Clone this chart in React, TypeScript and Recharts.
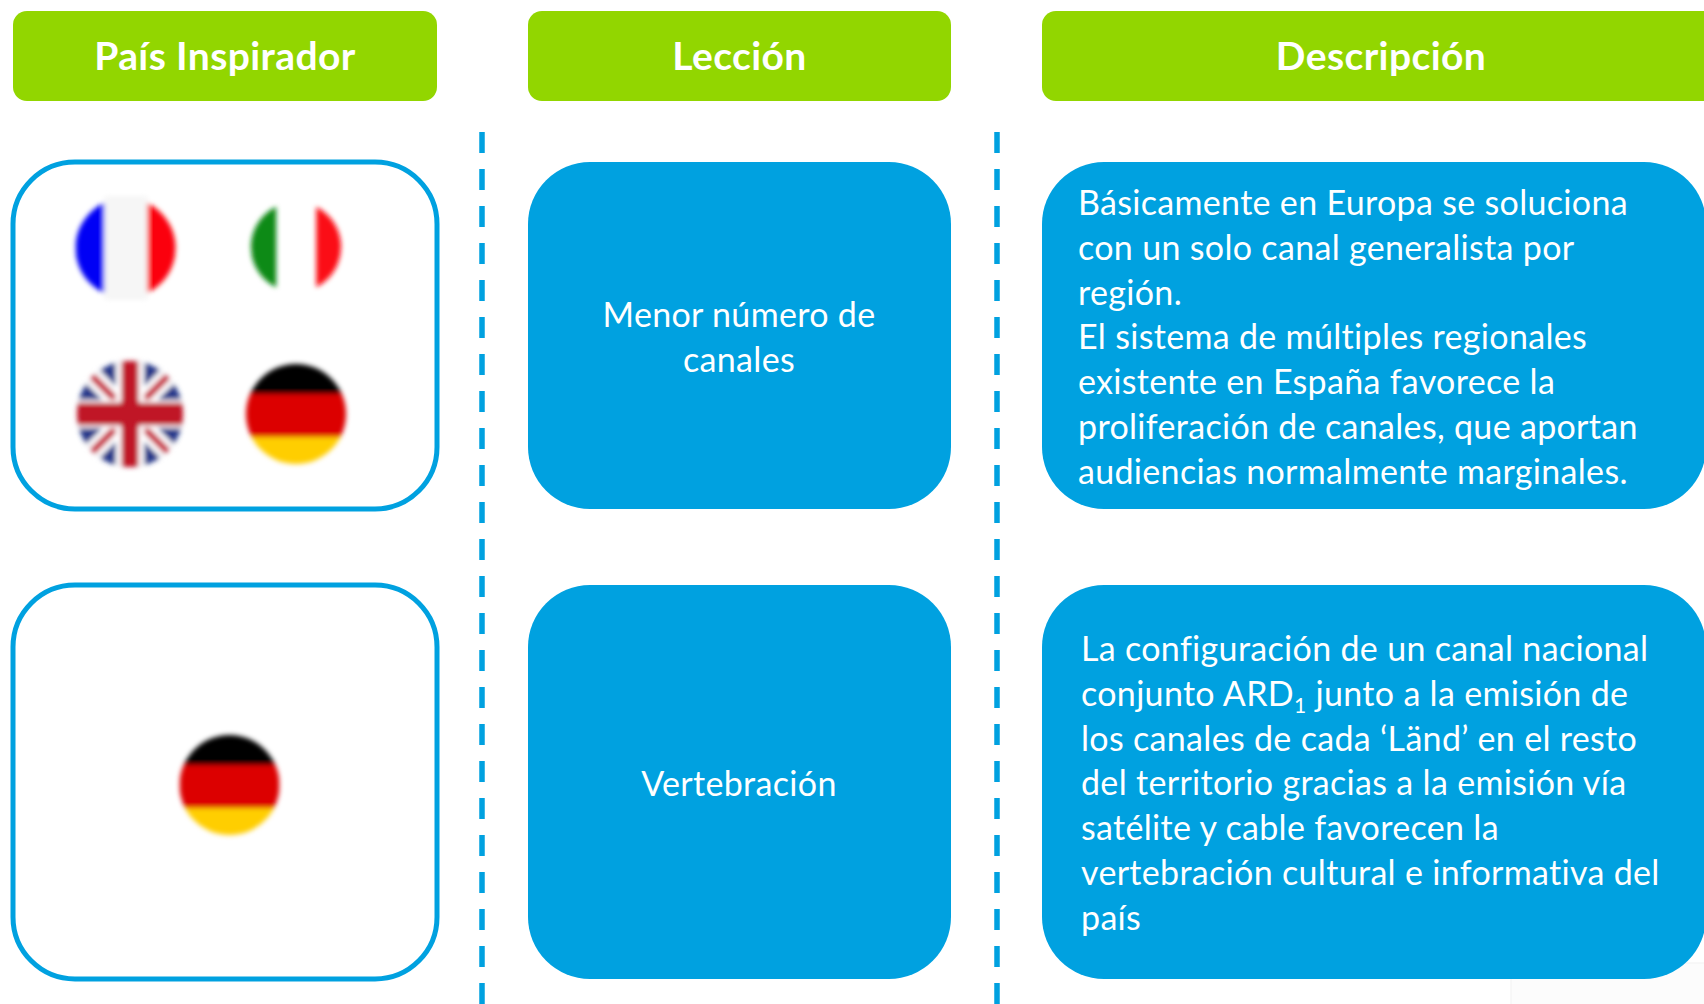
import { ReferenceArea, ReferenceLine, Scatter, ScatterChart, XAxis, YAxis } from "recharts";

const headers = ["País Inspirador", "Lección", "Descripción"];
const lessons = [["Menor número de", "canales"], ["Vertebración"]];
const descriptions = [
  [
    "Básicamente en Europa se soluciona",
    "con un solo canal generalista por",
    "región.",
    "El sistema de múltiples regionales",
    "existente en España favorece la",
    "proliferación de canales, que aportan",
    "audiencias normalmente marginales.",
  ],
  [
    "La configuración de un canal nacional",
    "conjunto ARD|1| junto a la emisión de",
    "los canales de cada ‘Länd’ en el resto",
    "del territorio gracias a la emisión vía",
    "satélite y cable favorecen la",
    "vertebración cultural e informativa del",
    "país",
  ],
];
const flagsRow1 = ["fr", "it", "uk", "de"];
const flagsRow2 = ["de"];

const WIDTH = 1704;
const HEIGHT = 1004;
const BLUE = "#00a1e0";
const GREEN = "#92d600";
const FONT = "Lato, Carlito, Calibri, sans-serif";
const BODY_SIZE = 34;
const LINE_STEP = 44.8;

// axis units are the picture's pixels
const colX = [
  [13, 437],
  [528, 951],
  [1042, 1720],
];
const rowY = [
  [162, 509],
  [585, 979],
];
const flagSpots = [
  [125.5, 248],
  [296, 247],
  [130, 414],
  [296, 414],
  [229.5, 785],
];

const flagData = [...flagsRow1, ...flagsRow2].map((flag, i) => ({
  x: flagSpots[i][0],
  y: flagSpots[i][1],
  flag,
  id: i,
}));

const textData = [
  ...headers.map((text, i) => ({
    x: (colX[i][0] + colX[i][1]) / 2,
    y: 70,
    text,
    anchor: "middle",
    bold: true,
    size: 39,
  })),
  ...lessons[0].map((text, i) => ({ x: 739, y: 327 + i * LINE_STEP, text, anchor: "middle" })),
  ...lessons[1].map((text) => ({ x: 739, y: 796, text, anchor: "middle" })),
  ...descriptions[0].map((text, i) => ({ x: 1078, y: 215 + i * LINE_STEP, text, anchor: "start" })),
  ...descriptions[1].map((text, i) => ({ x: 1081, y: 661 + i * LINE_STEP, text, anchor: "start" })),
];

function Line(props: any) {
  const { cx, cy, payload } = props;
  const parts = payload.text.split("|");
  return (
    <text
      x={cx}
      y={cy}
      textAnchor={payload.anchor}
      fill="#fff"
      fontFamily={FONT}
      fontSize={payload.size ?? BODY_SIZE}
      fontWeight={payload.bold ? 700 : 400}
      letterSpacing={payload.bold ? 0.4 : 0.32}
    >
      {parts.length === 1 ? (
        payload.text
      ) : (
        <>
          <tspan>{parts[0]}</tspan>
          <tspan fontSize={21} dy={7}>
            {parts[1]}
          </tspan>
          <tspan dy={-7}>{parts[2]}</tspan>
        </>
      )}
    </text>
  );
}

function FlagArt({ flag, r }: { flag: string; r: number }) {
  if (flag === "fr") {
    return (
      <>
        <rect x={-r} y={-r} width={r * 0.58} height={2 * r} fill="#0000f5" />
        <rect x={r * 0.42} y={-r} width={r} height={2 * r} fill="#fb0007" />
      </>
    );
  }
  if (flag === "it") {
    return (
      <>
        <rect x={-r} y={-r} width={r * 0.56} height={2 * r} fill="#0b8a12" />
        <rect x={r * 0.45} y={-r} width={r} height={2 * r} fill="#fb0a12" />
      </>
    );
  }
  if (flag === "de") {
    return (
      <>
        <rect x={-r} y={-r} width={2 * r} height={r * 0.6} fill="#000" />
        <rect x={-r} y={-r * 0.4} width={2 * r} height={r * 0.86} fill="#dc0000" />
        <rect x={-r} y={r * 0.46} width={2 * r} height={r} fill="#ffce00" />
      </>
    );
  }
  return (
    <>
      <rect x={-r} y={-r} width={2 * r} height={2 * r} fill="#25398a" />
      <path d={`M${-r} ${-r}L${r} ${r}M${r} ${-r}L${-r} ${r}`} stroke="#fff" strokeWidth={r * 0.36} />
      <path d={`M${-r} ${-r}L${r} ${r}M${r} ${-r}L${-r} ${r}`} stroke="#c8283c" strokeWidth={r * 0.14} />
      <path d={`M0 ${-r}V${r}M${-r} 0H${r}`} stroke="#fff" strokeWidth={r * 0.54} />
      <path d={`M0 ${-r}V${r}`} stroke="#c01226" strokeWidth={r * 0.32} />
      <path d={`M${-r} 0H${r}`} stroke="#c01226" strokeWidth={r * 0.42} />
    </>
  );
}

function Flag(props: any) {
  const { cx, cy, payload } = props;
  const r = payload.flag === "it" ? 45 : payload.flag === "uk" ? 53 : 50;
  const id = `flag-${payload.id}`;
  return (
    <g transform={`translate(${cx} ${cy})`}>
      <defs>
        <clipPath id={id}>
          <circle r={r} />
        </clipPath>
        <filter id={`${id}-blur`} x="-20%" y="-20%" width="140%" height="140%">
          <feGaussianBlur stdDeviation={2.6} />
        </filter>
      </defs>
      <g filter={`url(#${id}-blur)`}>
        <g clipPath={`url(#${id})`}>
          <FlagArt flag={payload.flag} r={r} />
        </g>
        {payload.flag === "fr" && <rect x={-21} y={-52} width={43} height={104} fill="#f6f6f6" />}
      </g>
    </g>
  );
}

export default function App() {
  return (
    <div style={{ position: "absolute", left: 0, top: 0, width: WIDTH, height: HEIGHT, overflow: "hidden" }}>
      <ScatterChart width={WIDTH} height={HEIGHT} margin={{ top: 0, right: 0, bottom: 0, left: 0 }}>
        <XAxis type="number" dataKey="x" domain={[0, WIDTH]} hide />
        <YAxis type="number" dataKey="y" domain={[0, HEIGHT]} reversed hide />

        {/* faint corner of a picture behind the last panel */}
        <ReferenceArea x1={1511} x2={WIDTH + 5} y1={963} y2={HEIGHT + 5} fill="#fcfcfc" fillOpacity={1} stroke="#f1f1f1" ifOverflow="visible" />

        {colX.map(([x1, x2], i) => (
          <ReferenceArea key={i} x1={x1} x2={x2} y1={11} y2={101} fill={GREEN} fillOpacity={1} radius={14} ifOverflow="visible" />
        ))}
        {rowY.map(([y1, y2], i) => (
          <ReferenceArea key={i} x1={colX[0][0]} x2={colX[0][1]} y1={y1} y2={y2} fill="#fff" fillOpacity={1} stroke={BLUE} strokeWidth={5} radius={62} ifOverflow="visible" />
        ))}
        {rowY.map(([y1, y2], i) =>
          colX.slice(1).map(([x1], j) => (
            <ReferenceArea key={`${i}-${j}`} x1={x1} x2={j === 0 ? colX[1][1] : 1706} y1={y1} y2={y2} fill={BLUE} fillOpacity={1} radius={62} ifOverflow="visible" />
          )),
        )}
        {[482, 997].map((x) => (
          <ReferenceLine
            key={x}
            segment={[
              { x, y: 132 },
              { x, y: HEIGHT },
            ]}
            stroke={BLUE}
            strokeWidth={5.5}
            strokeDasharray="21 16"
            ifOverflow="visible"
          />
        ))}

        <Scatter data={flagData} shape={Flag} isAnimationActive={false} />
        <Scatter data={textData} shape={Line} isAnimationActive={false} />
      </ScatterChart>
    </div>
  );
}
